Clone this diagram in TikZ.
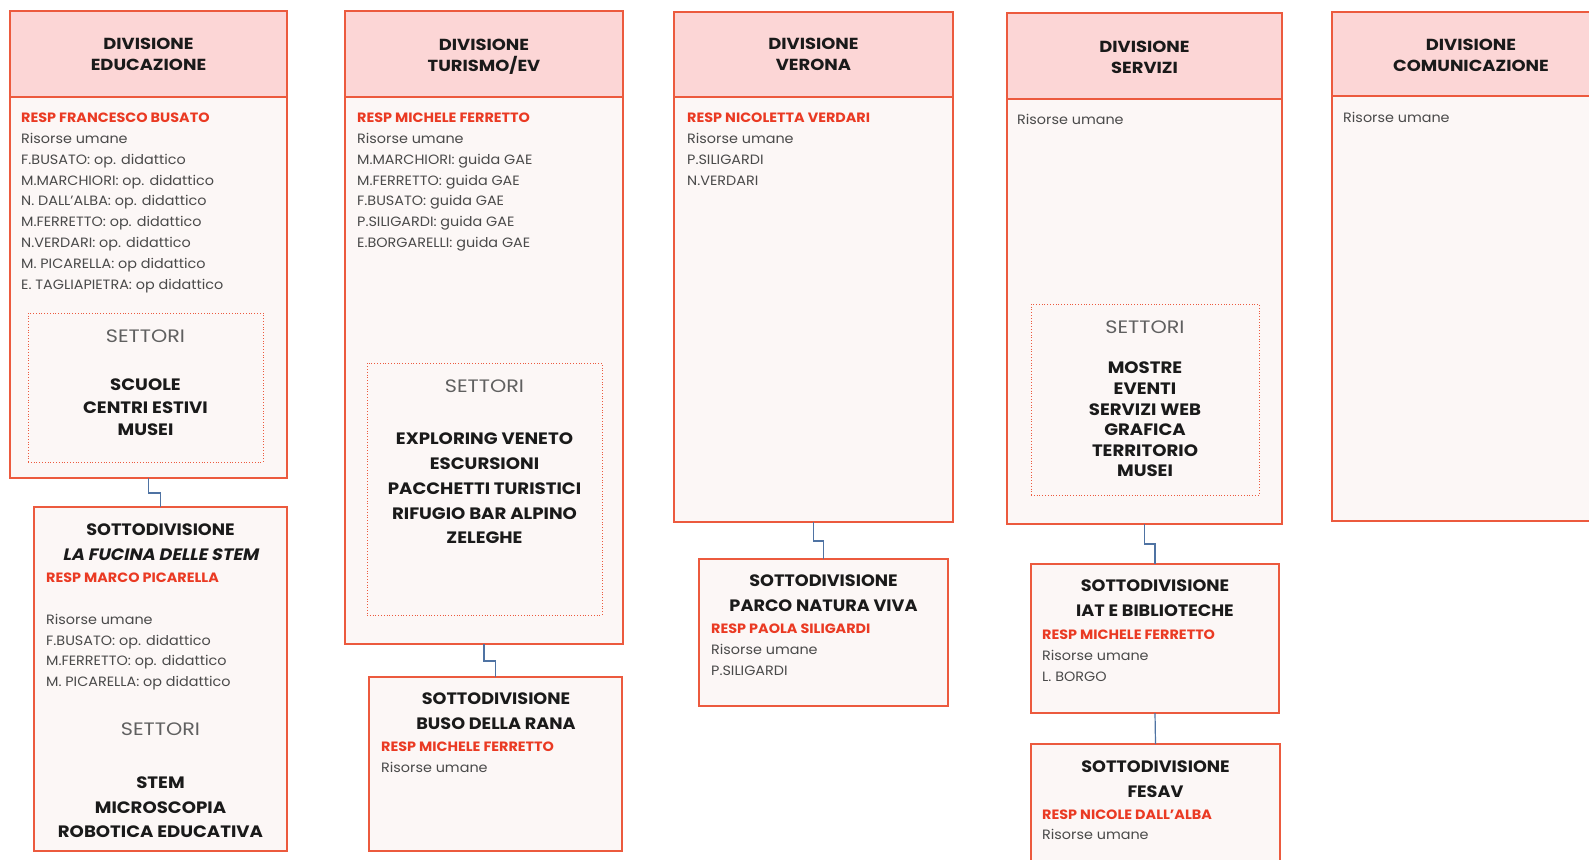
\documentclass[tikz,border=0pt]{standalone}
\usepackage{fontspec}
\setmainfont{Poppins}
\newfontfamily\fbody{Poppins}[FakeStretch=1.065]
\newfontfamily\fhead{Poppins}[FakeStretch=1.12]
\newfontfamily\fitem{Poppins}[FakeStretch=1.1]
\newfontfamily\fsub{Poppins}[FakeStretch=1.07]
\newfontfamily\fsubsl{Poppins}[FakeStretch=1.07,FakeSlant=0.2]
\newfontfamily\fsett{Poppins}[FakeStretch=1.15]
\usetikzlibrary{calc}
\definecolor{bord}{HTML}{EC5A3E}
\definecolor{headfill}{HTML}{FCD6D6}
\definecolor{bodyfill}{HTML}{FCF7F6}
\definecolor{respc}{HTML}{EA3A23}
\definecolor{titlec}{HTML}{1A1A1A}
\definecolor{bodyc}{HTML}{4A4A4A}
\definecolor{settc}{HTML}{606060}
\definecolor{connc}{HTML}{4F73A3}
\tikzset{
  panel/.style={draw=bord, line width=1.4pt, fill=bodyfill, inner sep=0pt, outer sep=0pt, anchor=north west},
  headbox/.style={panel, fill=headfill},
  dotbox/.style={draw=bord, dotted, line width=0.8pt, inner sep=0pt, outer sep=0pt, anchor=north west},
  conn/.style={draw=connc, line width=1.2pt},
  head/.style={font=\fhead\bfseries\fontsize{16}{21}\selectfont, text=titlec, align=center, inner sep=0pt},
  subtitle/.style={font=\fsub\bfseries\fontsize{16.5}{25}\selectfont, text=titlec, align=center, inner sep=0pt},
  items/.style={font=\fitem\bfseries\fontsize{16.5}{24.7}\selectfont, text=titlec, align=center, inner sep=0pt},
  sett/.style={font=\fsett\fontsize{18}{22}\selectfont, text=settc, inner sep=0pt},
  body/.style={font=\fbody\fontsize{13.5}{20.8}\selectfont, text=bodyc, align=left, inner sep=0pt, anchor=north west},
  resp/.style={font=\fbody\bfseries\fontsize{13.5}{20.8}\selectfont, text=respc, inner sep=0pt, anchor=north west},
}
\begin{document}
\begin{tikzpicture}[x=1pt, y=-1pt]
\useasboundingbox (0,0) rectangle (1589,859);
\fill[white] (0,0) rectangle (1589,859);
\clip (0,0) rectangle (1589,859);

% ---------- DIVISIONE EDUCAZIONE ----------
\node[panel, minimum width=277pt, minimum height=467pt] (E) at (10,11) {};
\node[headbox, minimum width=277pt, minimum height=86pt] (Eh) at (10,11) {};
\node[head] (Eht) at (Eh.center) {DIVISIONE\\EDUCAZIONE};
\node[resp] (Er) at (21,112.3) {RESP FRANCESCO BUSATO};
\node[body] (Eb) at (21,133.1) {Risorse umane\\F.BUSATO: op. didattico\\M.MARCHIORI: op. didattico\\N. DALL’ALBA: op. didattico\\M.FERRETTO: op. didattico\\N.VERDARI: op. didattico\\M. PICARELLA: op didattico\\E. TAGLIAPIETRA: op didattico};
\node[dotbox, minimum width=235pt, minimum height=149pt] (Ed) at (28,313) {};
\node[sett] (Es1) at (145.5,336) {SETTORI};
\node[items, font=\fitem\bfseries\fontsize{16.5}{22.5}\selectfont] (Ei) at (145.5,407.5) {SCUOLE\\CENTRI ESTIVI\\MUSEI};

\node[panel, minimum width=253pt, minimum height=344pt] (Es) at (34,507) {};
\node[subtitle] (Est) at (160.5,542.5) {SOTTODIVISIONE\\{\fsubsl\bfseries LA FUCINA DELLE STEM}};
\node[resp] (Esr) at (46,572.3) {RESP MARCO PICARELLA};
\node[body] (Esb) at (46,613.8) {Risorse umane\\F.BUSATO: op. didattico\\M.FERRETTO: op. didattico\\M. PICARELLA: op didattico};
\node[sett] (Ess) at (160.5,729) {SETTORI};
\node[items, font=\fitem\bfseries\fontsize{16.5}{24.5}\selectfont] (Esi) at (160.5,807.5) {STEM\\MICROSCOPIA\\ROBOTICA EDUCATIVA};
\draw[conn] (E.south) -- ++(0,15) -| (Es.north);

% ---------- DIVISIONE TURISMO/EV ----------
\node[panel, minimum width=278pt, minimum height=633pt] (T) at (345,11) {};
\node[headbox, minimum width=278pt, minimum height=86pt] (Th) at (345,11) {};
\node[head] (Tht) at ($(Th.center)+(0,2.5)$) {DIVISIONE\\TURISMO/EV};
\node[resp] (Tr) at (357,112.3) {RESP MICHELE FERRETTO};
\node[body] (Tb) at (357,133.1) {Risorse umane\\M.MARCHIORI: guida GAE\\M.FERRETTO: guida GAE\\F.BUSATO: guida GAE\\P.SILIGARDI: guida GAE\\E.BORGARELLI: guida GAE};
\node[dotbox, minimum width=235pt, minimum height=252pt] (Td) at (367,363) {};
\node[sett] (Ts1) at (484.5,386) {SETTORI};
\node[items] (Ti) at (484.5,488.5) {EXPLORING VENETO\\ESCURSIONI\\PACCHETTI TURISTICI\\RIFUGIO BAR ALPINO\\ZELEGHE};

\node[panel, minimum width=253pt, minimum height=174pt] (Ts) at (369,677) {};
\node[subtitle] (Tst) at (496,711) {SOTTODIVISIONE\\BUSO DELLA RANA};
\node[resp] (Tsr) at (381,741.3) {RESP MICHELE FERRETTO};
\node[body] (Tsb) at (381,762.5) {Risorse umane};
\draw[conn] (T.south) -- ++(0,17) -| (Ts.north);

% ---------- DIVISIONE VERONA ----------
\node[panel, minimum width=279pt, minimum height=510pt] (V) at (674,12) {};
\node[headbox, minimum width=279pt, minimum height=85pt] (Vh) at (674,12) {};
\node[head] (Vht) at (Vh.center) {DIVISIONE\\VERONA};
\node[resp] (Vr) at (687,112.3) {RESP NICOLETTA VERDARI};
\node[body] (Vb) at (687,133.1) {Risorse umane\\P.SILIGARDI\\N.VERDARI};

\node[panel, minimum width=249pt, minimum height=147pt] (Vs) at (699,559) {};
\node[subtitle] (Vst) at (823.5,593.5) {SOTTODIVISIONE\\PARCO NATURA VIVA};
\node[resp] (Vsr) at (711,623.3) {RESP PAOLA SILIGARDI};
\node[body] (Vsb) at (711,644.5) {Risorse umane\\P.SILIGARDI};
\draw[conn] (V.south) -- ++(0,19) -| (Vs.north);

% ---------- DIVISIONE SERVIZI ----------
\node[panel, minimum width=275pt, minimum height=511pt] (S) at (1007,13) {};
\node[headbox, minimum width=275pt, minimum height=86pt] (Sh) at (1007,13) {};
\node[head] (Sht) at ($(Sh.center)+(0,1)$) {DIVISIONE\\SERVIZI};
\node[body] (Sb) at (1017,114.3) {Risorse umane};
\node[dotbox, minimum width=228pt, minimum height=191pt] (Sd) at (1031,304) {};
\node[sett] (Ss1) at (1145,327) {SETTORI};
\node[items, font=\fitem\bfseries\fontsize{16.5}{20.6}\selectfont] (Si) at (1145,419.5) {MOSTRE\\EVENTI\\SERVIZI WEB\\GRAFICA\\TERRITORIO\\MUSEI};

\node[panel, minimum width=248pt, minimum height=149pt] (Sa) at (1031,564) {};
\node[subtitle] (Sat) at (1155,598.5) {SOTTODIVISIONE\\IAT E BIBLIOTECHE};
\node[resp] (Sar) at (1042,629.3) {RESP MICHELE FERRETTO};
\node[body] (Sab) at (1042,650) {Risorse umane\\L. BORGO};
\draw[conn] (S.south) -- ++(0,20) -| (Sa.north);

\node[panel, minimum width=249pt, minimum height=136pt] (Sf) at (1031,744) {};
\node[subtitle] (Sft) at (1155.5,779.5) {SOTTODIVISIONE\\FESAV};
\node[resp] (Sfr) at (1042,809.3) {RESP NICOLE DALL’ALBA};
\node[body] (Sfb) at (1042,829.5) {Risorse umane};
\draw[conn] (Sa.south) -- (Sf.north);

% ---------- DIVISIONE COMUNICAZIONE ----------
\node[panel, minimum width=290pt, minimum height=509pt] (C) at (1332,12) {};
\node[headbox, minimum width=290pt, minimum height=84pt] (Ch) at (1332,12) {};
\node[head] (Cht) at (1471,55) {DIVISIONE\\COMUNICAZIONE};
\node[body] (Cb) at (1343,112.3) {Risorse umane};
\end{tikzpicture}
\end{document}
